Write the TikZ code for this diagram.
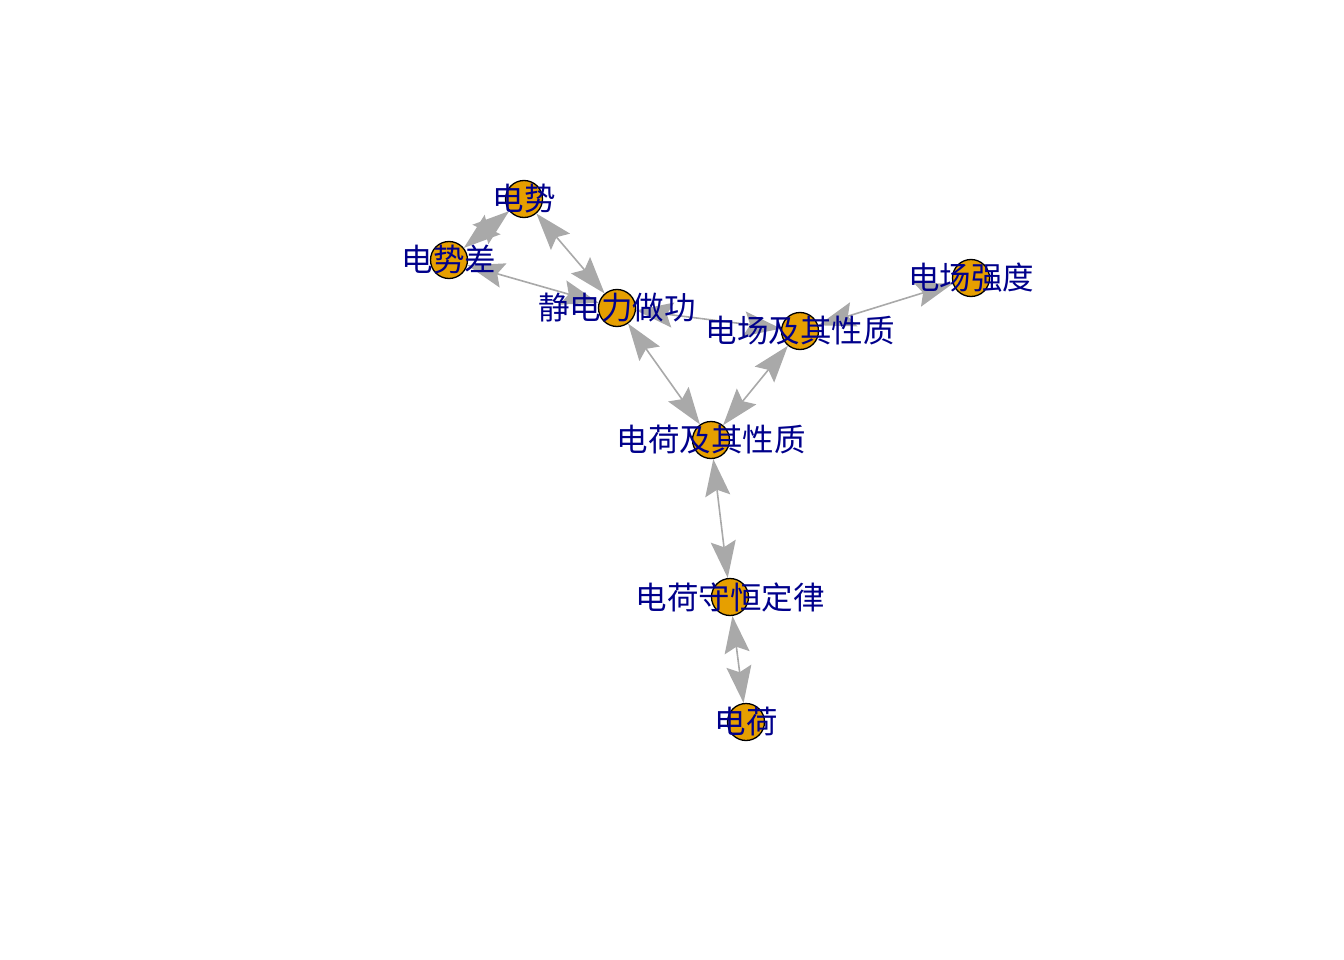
\documentclass[tikz,border=0pt]{standalone}
\usepackage{fontspec}
\usepackage{tikz}
\usetikzlibrary{arrows.meta,backgrounds}
\newfontfamily\cjk{Noto Sans CJK SC}
\definecolor{vfill}{HTML}{E69F00}
\definecolor{vlabel}{HTML}{00008B}
\definecolor{egray}{HTML}{A9A9A9}

\tikzset{
  vertex/.style={circle, draw=black, line width=1.3pt, fill=vfill,
    minimum size=37pt, inner sep=0pt,
    label={[text=vlabel, font=\cjk\fontsize{31.5}{31.5}\selectfont]center:#1}},
  edge/.style={draw=egray, line width=1.6pt,
    {Stealth[length=37pt,width=25pt,inset=6pt]}-{Stealth[length=37pt,width=25pt,inset=6pt]}}
}

\begin{document}
\begin{tikzpicture}[x=1pt, y=-1pt]
  \useasboundingbox (0,0) rectangle (1344,960);
  \node[vertex=电势] (dianshi) at (524, 199) {};
  \node[vertex=电势差] (dianshicha) at (449, 260) {};
  \node[vertex=静电力做功] (zuogong) at (617, 308) {};
  \node[vertex=电场及其性质] (dianchang) at (800, 331) {};
  \node[vertex=电场强度] (qiangdu) at (971, 278) {};
  \node[vertex=电荷及其性质] (xingzhi) at (711, 440) {};
  \node[vertex=电荷守恒定律] (shouheng) at (730, 597) {};
  \node[vertex=电荷] (dianhe) at (746, 722) {};
  % edges under the vertices
  \begin{pgfonlayer}{background}
    \draw[edge] (dianshicha) -- (dianshi);
    \draw[edge] (dianshi) -- (zuogong);
    \draw[edge] (dianshicha) -- (zuogong);
    \draw[edge] (zuogong) -- (dianchang);
    \draw[edge] (dianchang) -- (qiangdu);
    \draw[edge] (zuogong) -- (xingzhi);
    \draw[edge] (dianchang) -- (xingzhi);
    \draw[edge] (xingzhi) -- (shouheng);
    \draw[edge] (shouheng) -- (dianhe);
  \end{pgfonlayer}
\end{tikzpicture}
\end{document}
